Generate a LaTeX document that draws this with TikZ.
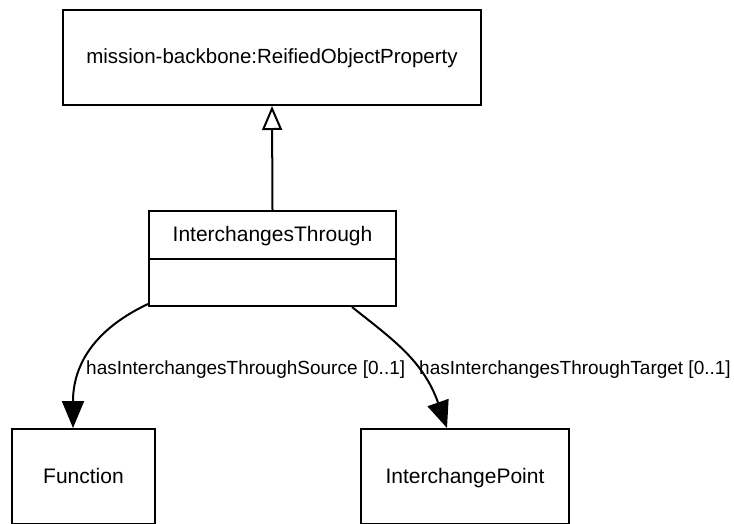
\documentclass[tikz,border=0pt]{standalone}
\usepackage{fontspec}
\setmainfont{Liberation Sans}
\usetikzlibrary{arrows.meta}
\tikzset{
  umlbox/.style={draw, line width=2pt, rectangle, inner sep=0pt},
  boxtext/.style={font=\fontsize{21}{25}\selectfont, inner sep=0pt},
  lbl/.style={font=\fontsize{19}{23}\selectfont, inner sep=0pt},
  gen/.style={line width=2pt, -{Triangle[open, length=24pt, width=20pt, fill=white]}},
  assoc/.style={line width=2pt, -{Triangle[length=27pt, width=22pt]}},
}
\begin{document}
\begin{tikzpicture}[x=1pt,y=-1pt]
\clip (0,0) rectangle (734,523);
\fill[white] (0,0) rectangle (734,523);
% boxes
\node[umlbox, minimum width=418pt, minimum height=95pt] (top) at (272,57.5) {};
\node[boxtext, font=\fontsize{20.5}{25}\selectfont, anchor=base] (toptext) at (272,63) {mission-backbone:ReifiedObjectProperty};
\node[umlbox, minimum width=247pt, minimum height=95pt] (mid) at (272.5,258.5) {};
\node[boxtext, anchor=base] (midtext) at (272.5,241) {InterchangesThrough};
\draw[line width=2pt] (mid.west |- 0,259) -- (mid.east |- 0,259);
\node[umlbox, minimum width=143pt, minimum height=95pt] (func) at (83.5,476.5) {};
\node[boxtext, anchor=base] (functext) at (83.5,483) {Function};
\node[umlbox, minimum width=208pt, minimum height=95pt] (ipt) at (465,476.5) {};
\node[boxtext, anchor=base] (ipttext) at (465,483) {InterchangePoint};
% generalization
\draw[gen] (mid.north) -- (top.south);
% associations
\draw[assoc] ([yshift=3pt]mid.south west) .. controls +(-55,26) and +(0,-62) .. ([xshift=-10.5pt]func.north);
\draw[assoc] ([xshift=79.5pt]mid.south) .. controls +(40,32) and +(-24,-68) .. ([xshift=-18pt]ipt.north);
% labels
\node[lbl, anchor=base west] (srclbl) at (86,374) {hasInterchangesThroughSource [0..1]};
\node[lbl, anchor=base west] (tgtlbl) at (419,374) {hasInterchangesThroughTarget [0..1]};
\end{tikzpicture}
\end{document}
